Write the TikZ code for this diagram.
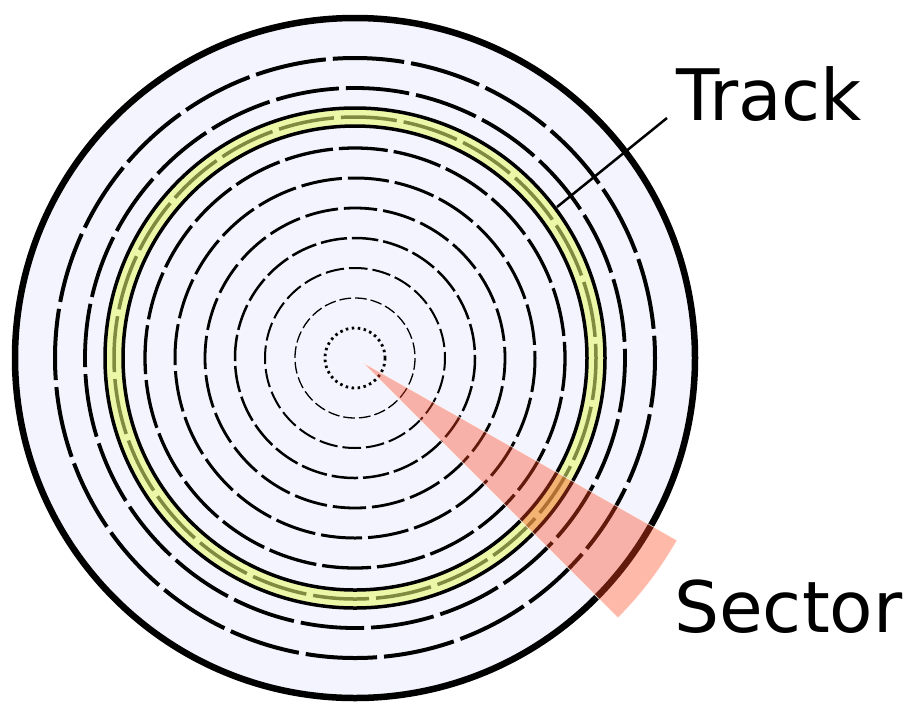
\documentclass[tikz,border=0pt]{standalone}
\usepackage{fontspec}
\newfontfamily\labelfont{DejaVu Sans}
\usetikzlibrary{positioning}
\definecolor{diskfill}{RGB}{244,244,254}
\definecolor{bandfill}{RGB}{236,247,168}
\definecolor{bandline}{RGB}{128,138,64}
\definecolor{sectorred}{RGB}{255,70,30}

\begin{document}
\begin{tikzpicture}[x=1pt, y=-1pt,
  disk/.style = {draw, line width=6.5pt, fill=diskfill},
  ring/.style = {line width=#1},
  band/.style = {draw, line width=3.5pt, fill=bandfill, even odd rule},
  sector/.style = {fill=sectorred, fill opacity=0.38,
    draw=white, draw opacity=0.7, line width=0.8pt},
  lbl/.style = {font=\labelfont\fontsize{71}{80}\selectfont,
    inner sep=0pt, anchor=base west},
  arr/.style = {line width=2.5pt}
  ]
  \useasboundingbox (0,0) rectangle (924,716);
  \coordinate (ctr) at (355,358);
  \coordinate (apex) at (362,362);

  \draw[disk] (ctr) circle[radius=340];

  % tracks, 24 pieces each
  \foreach \r/\w/\g/\ph in {60/1.3/4/0, 90/2/5/6, 120/2.5/5/3, 150/2.8/6/11,
      180/3/6/7, 210/3.3/6/16, 270/3.8/7/9, 300/4/7/22}{
    \pgfmathsetmacro\dashon{2*pi*\r/24-\g}
    \draw[ring=\w pt, dash pattern=on \dashon pt off \g pt, dash phase=\ph pt]
      (ctr) circle[radius=\r];
  }

  % highlighted track
  \path[band] (ctr) circle[radius=250] (ctr) circle[radius=232];
  \pgfmathsetmacro\dashon{2*pi*241/24-7}
  \draw[ring=3.5pt, bandline, dash pattern=on \dashon pt off 7pt, dash phase=14pt]
    (ctr) circle[radius=241];

  \draw[ring=2.8pt, dash pattern=on 2.5pt off 3.5pt] (ctr) circle[radius=30];

  % sector
  \path[sector] (apex) -- ++(29.5:362) arc[start angle=29.5, end angle=45,
    radius=362] -- cycle;

  \node (track) [lbl] at (676,120) {Track};
  \node (sect) [lbl] at (674,632) {Sector};

  \coordinate (trackpt) at (557,207);
  \coordinate (trackend) at (667,118);
  \draw[arr] (trackpt) -- (trackend);
\end{tikzpicture}
\end{document}
